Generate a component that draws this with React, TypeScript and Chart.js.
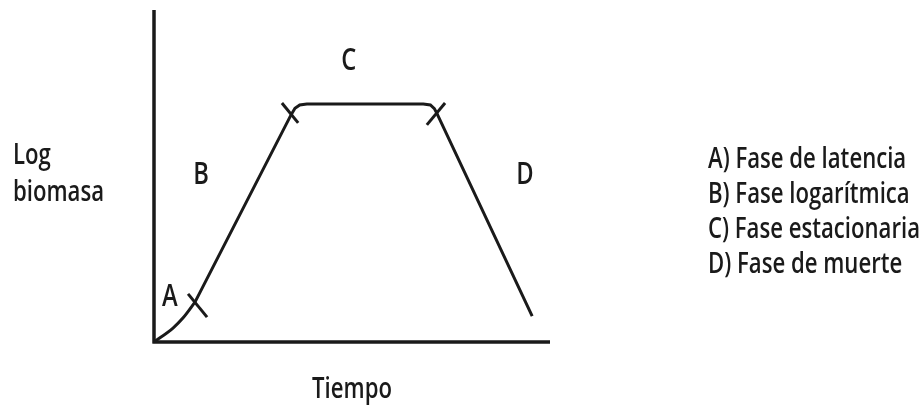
import { useEffect, useRef } from "react";
import { Chart, registerables } from "chart.js";

Chart.register(...registerables);

// Time and log-biomass run on a 0–100 arbitrary scale
const timeRange = [0, 100];
const logBiomassRange = [0, 100];

// Lag phase: slow start bending upward
const lagTime = [0, 4.8, 7.3, 10.35];
const lagLogBiomass = [0, 4.2, 7.2, 12];

// Log, stationary and death phases
const mainTime = [10.35, 34.6, 35.6, 36.8, 38.6, 68, 69.8, 70.8, 71.5, 95.5];
const mainLogBiomass = [12, 68.4, 70.4, 71.4, 71.7, 71.7, 71.4, 70.3, 68.7, 7.8];

// Short cross strokes marking the phase boundaries
const boundaryTime = [
  [8.6, 13.4],
  [32.3, 36.4],
  [68.9, 73.5],
];
const boundaryLogBiomass = [
  [14.5, 7.5],
  [72.0, 66.0],
  [65.4, 72.0],
];

// Phase letters placed beside the curve
const phaseLetters = ["A", "B", "C", "D"];
const phaseLetterTime = [4.0, 11.9, 49.2, 93.7];
const phaseLetterLogBiomass = [13.3, 50.3, 84.6, 50.3];

const phaseNames = [
  "Fase de latencia",
  "Fase logarítmica",
  "Fase estacionaria",
  "Fase de muerte",
];

const xTitle = "Tiempo";
const yTitleLines = ["Log", "biomasa"];

const INK = "#1a1a1a";
const FONT = '600 28px "Open Sans", "Noto Sans", sans-serif';
const LETTER_FONT = '600 30px "Open Sans", "Noto Sans", sans-serif';

export default function App() {
  const canvasRef = useRef<HTMLCanvasElement | null>(null);

  useEffect(() => {
    const canvas = canvasRef.current;
    if (!canvas) return;

    const lineStyle = {
      showLine: true,
      borderColor: INK,
      borderWidth: 3,
      pointRadius: 0,
      clip: false as const,
    };

    const lag = lagTime.map((t, i) => ({ x: t, y: lagLogBiomass[i] }));
    const main = mainTime.map((t, i) => ({ x: t, y: mainLogBiomass[i] }));
    const boundaries = boundaryTime.map((ts, k) => ({
      label: "boundary" + k,
      data: ts.map((t, i) => ({ x: t, y: boundaryLogBiomass[k][i] })),
      ...lineStyle,
    }));

    const drawCondensed = (
      ctx: CanvasRenderingContext2D,
      text: string,
      x: number,
      y: number,
      sx: number,
      align: "left" | "center"
    ) => {
      const w = ctx.measureText(text).width * sx;
      ctx.save();
      ctx.translate(align === "center" ? x - w / 2 : x, y);
      ctx.scale(sx, 1);
      ctx.fillText(text, 0, 0);
      ctx.restore();
    };

    const decorations = {
      id: "growthDecorations",
      beforeDatasetsDraw(chart: Chart) {
        const { ctx, chartArea } = chart;
        ctx.save();
        ctx.strokeStyle = INK;
        ctx.lineWidth = 3.5;
        ctx.lineCap = "butt";
        ctx.beginPath();
        ctx.moveTo(chartArea.left, chartArea.top);
        ctx.lineTo(chartArea.left, chartArea.bottom + 1.5);
        ctx.moveTo(chartArea.left - 1.5, chartArea.bottom);
        ctx.lineTo(chartArea.right, chartArea.bottom);
        ctx.stroke();
        ctx.restore();
      },
      afterDatasetsDraw(chart: Chart) {
        const { ctx, chartArea } = chart;
        const xs = chart.scales.x;
        const ys = chart.scales.y;
        ctx.save();
        ctx.fillStyle = INK;
        ctx.font = FONT;
        // horizontal squeeze so the legend line fits its column
        const sx = 212 / ctx.measureText("C) Fase estacionaria").width;

        ctx.textBaseline = "alphabetic";
        phaseNames.forEach((name, i) => {
          drawCondensed(ctx, `${phaseLetters[i]}) ${name}`, 708, 168 + i * 35, sx, "left");
        });

        drawCondensed(ctx, yTitleLines[0], 13, 164, sx, "left");
        drawCondensed(ctx, yTitleLines[1], 13, 201, sx, "left");
        drawCondensed(ctx, xTitle, (chartArea.left + chartArea.right) / 2, 398, sx, "center");

        ctx.font = LETTER_FONT;
        ctx.textBaseline = "middle";
        phaseLetters.forEach((letter, i) => {
          drawCondensed(
            ctx,
            letter,
            xs.getPixelForValue(phaseLetterTime[i]),
            ys.getPixelForValue(phaseLetterLogBiomass[i]),
            sx,
            "center"
          );
        });
        ctx.restore();
      },
    };

    const chart = new Chart(canvas, {
      type: "scatter",
      data: {
        datasets: [
          { label: "lag", data: lag, cubicInterpolationMode: "monotone", ...lineStyle },
          { label: "growth", data: main, tension: 0, ...lineStyle },
          ...boundaries,
        ],
      },
      options: {
        animation: false,
        responsive: false,
        layout: { padding: { left: 154, right: 374, top: 10, bottom: 66 } },
        plugins: { legend: { display: false }, tooltip: { enabled: false } },
        scales: {
          x: { type: "linear", min: timeRange[0], max: timeRange[1], display: false },
          y: { type: "linear", min: logBiomassRange[0], max: logBiomassRange[1], display: false },
        },
      },
      plugins: [decorations],
    });

    return () => chart.destroy();
  }, []);

  return (
    <div style={{ position: "absolute", left: 0, top: 0, width: 924, height: 408, background: "#fff" }}>
      <canvas ref={canvasRef} width={924} height={408} />
    </div>
  );
}
